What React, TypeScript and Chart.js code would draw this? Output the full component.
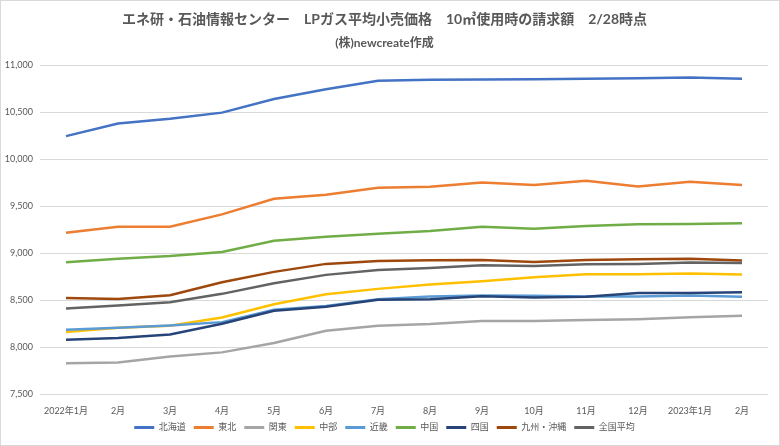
import React, { useEffect, useRef } from "react";
import { Chart, registerables } from "chart.js";

Chart.register(...registerables);

const months = ["2022年1月", "2月", "3月", "4月", "5月", "6月", "7月", "8月", "9月", "10月", "11月", "12月", "2023年1月", "2月"];

const hokkaido = [10245, 10380, 10430, 10495, 10640, 10745, 10835, 10845, 10848, 10850, 10855, 10860, 10868, 10856];
const tohoku = [9217, 9281, 9281, 9412, 9579, 9621, 9695, 9706, 9752, 9724, 9770, 9710, 9759, 9724];
const kanto = [7826, 7836, 7900, 7943, 8042, 8173, 8226, 8244, 8276, 8276, 8287, 8297, 8318, 8332];
const chubu = [8159, 8205, 8226, 8314, 8456, 8562, 8619, 8665, 8700, 8743, 8775, 8775, 8782, 8771];
const kinki = [8183, 8205, 8230, 8265, 8396, 8438, 8509, 8538, 8548, 8545, 8538, 8538, 8548, 8534];
const chugoku = [8902, 8941, 8970, 9012, 9132, 9175, 9207, 9235, 9281, 9260, 9288, 9306, 9310, 9317];
const shikoku = [8077, 8095, 8134, 8247, 8385, 8428, 8502, 8509, 8541, 8527, 8534, 8576, 8576, 8584];
const kyushu = [8523, 8512, 8552, 8690, 8800, 8885, 8916, 8923, 8927, 8906, 8927, 8934, 8941, 8920];
const national = [8410, 8442, 8477, 8566, 8679, 8768, 8821, 8842, 8870, 8863, 8881, 8884, 8899, 8895];

const seriesNames = ["北海道", "東北", "関東", "中部", "近畿", "中国", "四国", "九州・沖縄", "全国平均"];
const seriesData = [hokkaido, tohoku, kanto, chubu, kinki, chugoku, shikoku, kyushu, national];
const seriesColors = ["#4472C4", "#ED7D31", "#A5A5A5", "#FFC000", "#5B9BD5", "#70AD47", "#264478", "#9E480E", "#636363"];

const yTicksMin = 7500;
const yTicksMax = 11000;
const yStep = 500;

const titleText = "エネ研・石油情報センター　LPガス平均小売価格　10㎥使用時の請求額　2/28時点";
const subtitleText = "(株)newcreate作成";

const FONT = "Lato, 'Noto Sans CJK JP', sans-serif";
const TEXT = "#595959";

export default function App() {
  const ref = useRef<HTMLCanvasElement | null>(null);

  useEffect(() => {
    if (!ref.current) return;
    const chart = new Chart(ref.current, {
      type: "line",
      data: {
        labels: months,
        datasets: seriesNames.map((name, i) => ({
          label: name,
          data: seriesData[i],
          borderColor: seriesColors[i],
          backgroundColor: seriesColors[i],
          borderWidth: 2.5,
          pointRadius: 0,
          tension: 0,
          order: seriesNames.length - i,
        })),
      },
      options: {
        animation: false,
        responsive: false,
        maintainAspectRatio: false,
        layout: { padding: { left: 0, right: 11, top: 0, bottom: 3 } },
        plugins: {
          title: {
            display: true,
            text: titleText,
            color: TEXT,
            font: { family: FONT, size: 14, weight: "bold" },
            padding: { top: 10, bottom: 4 },
          },
          subtitle: {
            display: true,
            text: subtitleText,
            color: TEXT,
            font: { family: FONT, size: 12, weight: "bold" },
            padding: { top: 4, bottom: 15 },
          },
          legend: {
            position: "bottom",
            labels: {
              color: TEXT,
              font: { family: FONT, size: 9 },
              boxWidth: 20,
              boxHeight: 3,
              padding: 8,
              sort: (a: any, b: any) => a.datasetIndex - b.datasetIndex,
              generateLabels: (c: any) =>
                Chart.defaults.plugins.legend.labels.generateLabels(c).map((l: any) => ({
                  ...l,
                  lineWidth: 0,
                  fillStyle: seriesColors[l.datasetIndex],
                })),
            },
          },
          tooltip: { enabled: false },
        },
        scales: {
          x: {
            offset: true,
            grid: { display: false, drawTicks: false },
            border: { display: false },
            ticks: {
              color: TEXT,
              font: { family: FONT, size: 9 },
              maxRotation: 0,
              autoSkip: false,
              padding: 12,
            },
            afterFit: (s: any) => {
              s.height = 21;
            },
          },
          y: {
            min: yTicksMin,
            max: yTicksMax,
            grid: { color: "#D9D9D9", lineWidth: 1, drawTicks: false },
            border: { display: false },
            ticks: {
              stepSize: yStep,
              color: TEXT,
              font: { family: FONT, size: 9 },
              padding: 7,
              callback: (v: any) => Number(v).toLocaleString("en-US"),
            },
            afterFit: (s: any) => {
              s.width = 39;
            },
          },
        },
      },
    });
    return () => chart.destroy();
  }, []);

  return (
    <div
      style={{
        position: "absolute",
        left: 0,
        top: 0,
        width: 780,
        height: 446,
        border: "1px solid #D9D9D9",
        boxSizing: "border-box",
        background: "#fff",
      }}
    >
      <canvas ref={ref} width={778} height={444} style={{ display: "block", width: 778, height: 444 }} />
    </div>
  );
}
